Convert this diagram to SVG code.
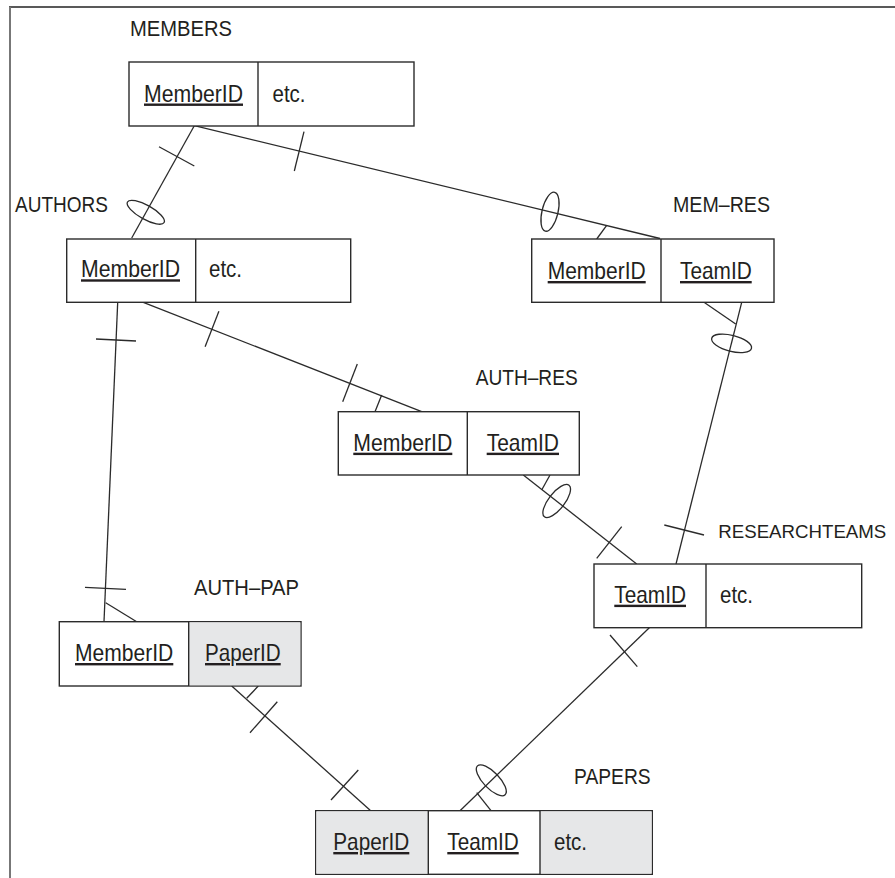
<svg xmlns="http://www.w3.org/2000/svg" width="895" height="878" viewBox="0 0 895 878">
<style>
.box{fill:#fff;stroke:#2b2b2b;stroke-width:1.4}
.grey{fill:#e6e7e8}
.div{stroke:#2b2b2b;stroke-width:1.4}
.t{font-family:"Liberation Sans",Arial,sans-serif;fill:#231f20}
.lbl{font-size:22px}
.fld{font-size:24px}
.u{text-decoration:underline}
.c line{stroke:#2b2b2b;stroke-width:1.3}
.c ellipse{fill:none;stroke:#2b2b2b;stroke-width:1.3}
</style>
<rect width="895" height="878" fill="#fff"/>
<line x1="9" y1="7" x2="895" y2="7" stroke="#222" stroke-width="1.6"/>
<line x1="10" y1="7" x2="10" y2="878" stroke="#777" stroke-width="2"/>

<g id="connectors" class="c">
  <!-- MEMBERS - AUTHORS -->
  <line x1="194.3" y1="125.7" x2="131.7" y2="238"/>
  <line x1="159" y1="146.7" x2="194.3" y2="166"/>
  <ellipse cx="145.8" cy="212.3" rx="7" ry="21" transform="rotate(119.2 145.8 212.3)"/>
  <!-- MEMBERS - MEM-RES -->
  <line x1="194.3" y1="125.7" x2="660" y2="238.5"/>
  <line x1="294.3" y1="171" x2="304" y2="131.7"/>
  <ellipse cx="550" cy="211.7" rx="8" ry="20" transform="rotate(13.6 550 211.7)"/>
  <line x1="596.7" y1="239" x2="606.7" y2="225.3"/>
  <!-- AUTHORS - AUTH-RES -->
  <line x1="143.3" y1="302.3" x2="421.7" y2="411.7"/>
  <line x1="205.1" y1="346.7" x2="218.9" y2="311.3"/>
  <line x1="342.7" y1="401.7" x2="357.3" y2="364"/>
  <line x1="375" y1="411.7" x2="381.7" y2="395"/>
  <!-- AUTHORS - AUTH-PAP -->
  <line x1="117.7" y1="302.3" x2="104" y2="621.7"/>
  <line x1="96" y1="339" x2="136" y2="341"/>
  <line x1="85" y1="587.3" x2="126" y2="589.3"/>
  <line x1="136.7" y1="621.7" x2="105.7" y2="602.7"/>
  <!-- MEM-RES - RESEARCHTEAMS -->
  <line x1="741.7" y1="302.3" x2="676" y2="564"/>
  <line x1="704" y1="302.3" x2="735.7" y2="324"/>
  <ellipse cx="731.6" cy="343.3" rx="8" ry="20.5" transform="rotate(104.2 731.6 343.3)"/>
  <line x1="664.3" y1="525" x2="704" y2="535"/>
  <!-- AUTH-RES - RESEARCHTEAMS -->
  <line x1="523.3" y1="475" x2="636.7" y2="564"/>
  <line x1="550" y1="475" x2="541.7" y2="490"/>
  <ellipse cx="556.7" cy="501" rx="8" ry="20" transform="rotate(37.9 556.7 501)"/>
  <line x1="596.7" y1="558.3" x2="621.7" y2="526.7"/>
  <!-- AUTH-PAP - PAPERS -->
  <line x1="231.7" y1="686" x2="370.7" y2="810.7"/>
  <line x1="258.3" y1="686" x2="246.7" y2="698.3"/>
  <line x1="250" y1="732.7" x2="277.3" y2="701.7"/>
  <line x1="331" y1="800" x2="358.3" y2="770"/>
  <!-- RESEARCHTEAMS - PAPERS -->
  <line x1="649.3" y1="627.7" x2="460" y2="810.7"/>
  <line x1="610" y1="635" x2="637.3" y2="666.7"/>
  <ellipse cx="491.3" cy="780.3" rx="8" ry="20" transform="rotate(136.2 491.3 780.3)"/>
  <line x1="491" y1="810.7" x2="476.7" y2="792.7"/>
</g>

<g id="members">
  <text class="t lbl" x="130" y="36" textLength="102" lengthAdjust="spacingAndGlyphs">MEMBERS</text>
  <rect class="box" x="129" y="62" width="285" height="64"/>
  <line class="div" x1="258" y1="62" x2="258" y2="126"/>
  <text class="t fld u" x="144" y="101.5" textLength="99" lengthAdjust="spacingAndGlyphs">MemberID</text>
  <text class="t fld" x="272.5" y="101.5" textLength="33" lengthAdjust="spacingAndGlyphs">etc.</text>
</g>

<g id="authors">
  <text class="t lbl" x="15" y="211.5" textLength="93" lengthAdjust="spacingAndGlyphs">AUTHORS</text>
  <rect class="box" x="66.7" y="239" width="284" height="63.3"/>
  <line class="div" x1="195.7" y1="239" x2="195.7" y2="302.3"/>
  <text class="t fld u" x="81" y="277.3" textLength="99" lengthAdjust="spacingAndGlyphs">MemberID</text>
  <text class="t fld" x="209" y="277.3" textLength="33" lengthAdjust="spacingAndGlyphs">etc.</text>
</g>

<g id="mem-res">
  <text class="t lbl" x="673" y="212.3" textLength="97" lengthAdjust="spacingAndGlyphs">MEM–RES</text>
  <rect class="box" x="531.7" y="239" width="242.3" height="63.3"/>
  <line class="div" x1="661" y1="239" x2="661" y2="302.3"/>
  <text class="t fld u" x="547.7" y="279" textLength="98" lengthAdjust="spacingAndGlyphs">MemberID</text>
  <text class="t fld u" x="680" y="279" textLength="71.7" lengthAdjust="spacingAndGlyphs">TeamID</text>
</g>

<g id="auth-res">
  <text class="t lbl" x="475.7" y="385" textLength="102" lengthAdjust="spacingAndGlyphs">AUTH–RES</text>
  <rect class="box" x="338.3" y="411.7" width="241" height="63.3"/>
  <line class="div" x1="467.3" y1="411.7" x2="467.3" y2="475"/>
  <text class="t fld u" x="353.3" y="450.7" textLength="99" lengthAdjust="spacingAndGlyphs">MemberID</text>
  <text class="t fld u" x="486.7" y="450.7" textLength="72.3" lengthAdjust="spacingAndGlyphs">TeamID</text>
</g>

<g id="researchteams">
  <text class="t" x="718.3" y="537.7" font-size="19" textLength="168" lengthAdjust="spacingAndGlyphs">RESEARCHTEAMS</text>
  <rect class="box" x="594" y="564" width="267.7" height="63.7"/>
  <line class="div" x1="706" y1="564" x2="706" y2="627.7"/>
  <text class="t fld u" x="614.3" y="602.7" textLength="71.7" lengthAdjust="spacingAndGlyphs">TeamID</text>
  <text class="t fld" x="720" y="602.7" textLength="33" lengthAdjust="spacingAndGlyphs">etc.</text>
</g>

<g id="auth-pap">
  <text class="t lbl" x="194" y="595" textLength="105" lengthAdjust="spacingAndGlyphs">AUTH–PAP</text>
  <rect class="box" x="59.3" y="621.7" width="241.7" height="64.3"/>
  <rect class="grey" x="188.7" y="622.4" width="111.6" height="62.9"/>
  <line class="div" x1="188.7" y1="621.7" x2="188.7" y2="686"/>
  <text class="t fld u" x="75" y="661" textLength="98.3" lengthAdjust="spacingAndGlyphs">MemberID</text>
  <text class="t fld u" x="205" y="661" textLength="75.7" lengthAdjust="spacingAndGlyphs">PaperID</text>
</g>

<g id="papers">
  <text class="t lbl" x="574" y="784.3" textLength="76.7" lengthAdjust="spacingAndGlyphs">PAPERS</text>
  <rect class="box" x="315.7" y="810.7" width="336.6" height="63.6"/>
  <rect class="grey" x="316.4" y="811.4" width="111.9" height="62.2"/>
  <rect class="grey" x="540" y="811.4" width="111.6" height="62.2"/>
  <line class="div" x1="428.3" y1="810.7" x2="428.3" y2="874.3"/>
  <line class="div" x1="540" y1="810.7" x2="540" y2="874.3"/>
  <text class="t fld u" x="333.3" y="850" textLength="76" lengthAdjust="spacingAndGlyphs">PaperID</text>
  <text class="t fld u" x="447.3" y="850" textLength="71.4" lengthAdjust="spacingAndGlyphs">TeamID</text>
  <text class="t fld" x="554" y="850" textLength="33" lengthAdjust="spacingAndGlyphs">etc.</text>
</g>
</svg>
